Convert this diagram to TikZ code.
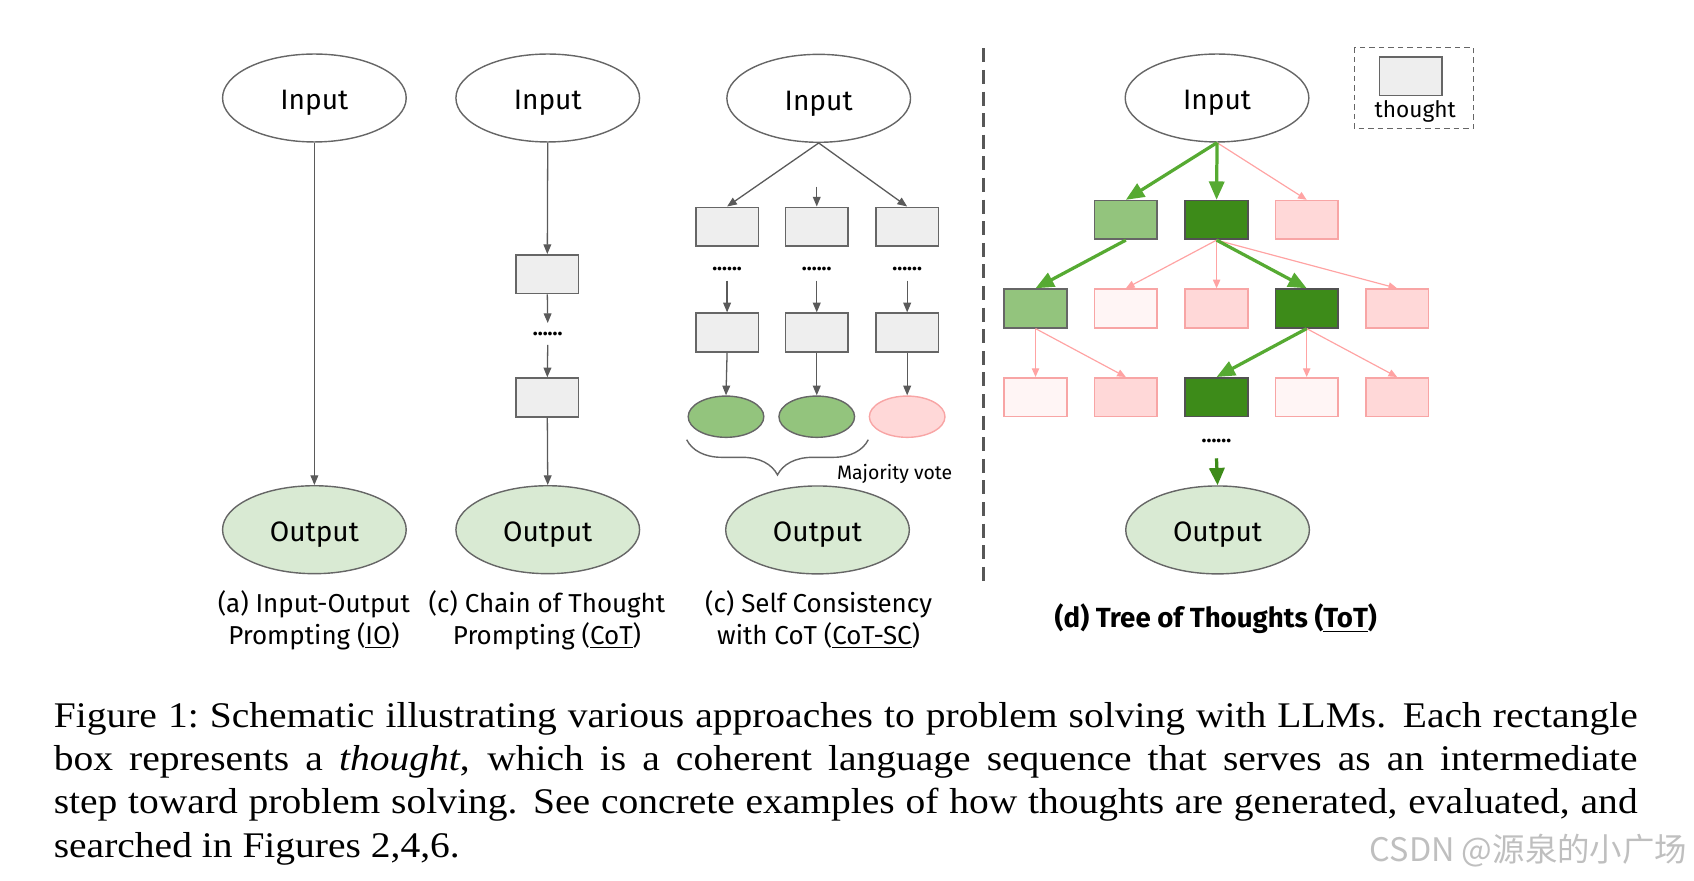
\documentclass[tikz,border=0pt]{standalone}
\usepackage{fontspec}
\setmainfont[FakeStretch=1.095]{Liberation Serif}
\newfontfamily\uifont{Fira Sans}
\newfontfamily\cjkfont{Noto Sans CJK SC}
\usetikzlibrary{arrows.meta,decorations.pathreplacing,shapes.geometric}

\definecolor{boxgray}{HTML}{EEEEEE}
\definecolor{edgegray}{HTML}{666666}
\definecolor{arrgray}{HTML}{5A5A5A}
\definecolor{lgreen}{HTML}{93C47D}
\definecolor{dgreen}{HTML}{3D8B19}
\definecolor{agreen}{HTML}{56AA32}
\definecolor{outgreen}{HTML}{D9EAD3}
\definecolor{pinkfill}{HTML}{FFD8D8}
\definecolor{palepink}{HTML}{FFF5F5}
\definecolor{pinkedge}{HTML}{F8A5A5}
\definecolor{pinkarrow}{HTML}{FFA3A3}

\tikzset{
  ell/.style={ellipse, draw=edgegray, line width=0.65pt, minimum width=85pt,
    minimum height=40.7pt, inner sep=0pt, text height=11.1pt, text depth=0pt,
    font=\uifont\fontsize{13}{15}\selectfont},
  inell/.style={ell, fill=white},
  outell/.style={ell, fill=outgreen},
  thbox/.style={rectangle, draw=edgegray, line width=0.75pt, minimum width=29pt,
    minimum height=17.9pt, inner sep=0pt},
  graybox/.style={thbox, fill=boxgray},
  lgbox/.style={thbox, fill=lgreen},
  dgbox/.style={thbox, fill=dgreen, draw=edgegray!80!black},
  pkbox/.style={thbox, fill=pinkfill, draw=pinkedge},
  ppbox/.style={thbox, fill=palepink, draw=pinkedge},
  vote/.style={ellipse, minimum width=35pt, minimum height=19.1pt, inner sep=0pt, line width=0.65pt},
  garr/.style={draw=arrgray, line width=0.6pt, -{Triangle[length=4.5pt,width=3.6pt]}},
  greenarr/.style={draw=agreen, line width=1.5pt, -{Triangle[length=8.5pt,width=7pt]}},
  darkarr/.style={draw=dgreen, line width=1.5pt, -{Triangle[length=8pt,width=7pt]}},
  pinkarr/.style={draw=pinkarrow, line width=0.55pt, -{Triangle[length=4pt,width=3.4pt]}},
  dotsnode/.style={font=\uifont\bfseries\fontsize{9.5}{10}\selectfont, inner sep=0pt},
  lab/.style={font=\uifont\fontsize{12}{14}\selectfont, anchor=base, inner sep=0pt},
}

\begin{document}
\begin{tikzpicture}[x=0.5pt,y=-0.5pt]
\useasboundingbox (0,0) rectangle (1568,814.6);

% ---------- (a) IO ----------
\node[inell]  (ina)  at (291,90.7)  {Input};
\node[outell] (outa) at (291,490.3) {Output};
\draw[garr] (ina.south) -- (outa.north);

% ---------- (b) CoT ----------
\node[inell]  (inb)  at (507,90.7)  {Input};
\node[graybox] (b1)  at (506.6,253.8) {};
\node[dotsnode] (dotsb) at (507,309.5) {......};
\node[graybox] (b2)  at (506.6,367.9) {};
\node[outell] (outb) at (507,490.3) {Output};
\coordinate (bda) at (507,299);
\coordinate (bdb) at (507,319.3);
\draw[garr] (inb.south) -- (b1.north);
\draw[garr] (b1.south) -- (bda);
\draw[garr] (bdb) -- (b2.north);
\draw[garr] (b2.south) -- (outb.north);

% ---------- (c) CoT-SC ----------
\node[inell] (inc) at (757.8,91) {Input};
\node[graybox] (c11) at (673,209.8) {};
\node[graybox] (c12) at (756,209.8) {};
\node[graybox] (c13) at (839.7,209.8) {};
\node[dotsnode] (dc1) at (673,249.3) {......};
\node[dotsnode] (dc2) at (756,249.3) {......};
\node[dotsnode] (dc3) at (839.7,249.3) {......};
\node[graybox] (c21) at (673,307.8) {};
\node[graybox] (c22) at (756,307.8) {};
\node[graybox] (c23) at (839.7,307.8) {};
\node[vote, fill=lgreen, draw=edgegray] (v1) at (672,385.7) {};
\node[vote, fill=lgreen, draw=edgegray] (v2) at (756,385.7) {};
\node[vote, fill=pinkfill, draw=pinkedge] (v3) at (839.7,385.7) {};
\node[outell] (outc) at (756.7,490.5) {Output};
\coordinate (cm) at (756,172.8);
\coordinate (cd1) at (673,259.8);
\coordinate (cd2) at (756,259.8);
\coordinate (cd3) at (839.7,259.8);
\draw[garr] (inc.south) -- (c11.north);
\draw[garr] (cm) -- (c12.north);
\draw[garr] (inc.south) -- (c13.north);
\draw[garr] (cd1) -- (c21.north);
\draw[garr] (cd2) -- (c22.north);
\draw[garr] (cd3) -- (c23.north);
\draw[garr] (c21.south) -- (v1.north);
\draw[garr] (c22.south) -- (v2.north);
\draw[garr] (c23.south) -- (v3.north);
\coordinate (brl) at (635.6,407);
\coordinate (brr) at (803.7,407);
\draw[draw=edgegray, line width=0.65pt, decorate,
      decoration={brace, mirror, amplitude=16.3pt}] (brl) -- (brr);
\node[font=\uifont\fontsize{9}{11}\selectfont, anchor=base west, inner sep=0pt]
  (mv) at (774.4,443.7) {Majority vote};

% ---------- separator ----------
\coordinate (sept) at (910.5,44.7);
\coordinate (sepb) at (910.5,540);
\draw[draw=edgegray!85!black, line width=1.5pt, dash pattern=on 6.5pt off 3.5pt] (sept) -- (sepb);

% ---------- (d) ToT ----------
\node[inell] (ind) at (1126.5,90.7) {Input};
\node[lgbox] (d11) at (1042.1,203.6) {};
\node[dgbox] (d12) at (1126.1,203.6) {};
\node[pkbox] (d13) at (1209.5,203.6) {};
\node[lgbox] (d21) at (958.5,285.5) {};
\node[ppbox] (d22) at (1042.1,285.5) {};
\node[pkbox] (d23) at (1126.1,285.5) {};
\node[dgbox] (d24) at (1209.5,285.5) {};
\node[pkbox] (d25) at (1293.2,285.5) {};
\node[ppbox] (d31) at (958.5,367.6) {};
\node[pkbox] (d32) at (1042.1,367.6) {};
\node[dgbox] (d33) at (1126.1,367.6) {};
\node[ppbox] (d34) at (1209.5,367.6) {};
\node[pkbox] (d35) at (1293.2,367.6) {};
\node[dotsnode] (dotsd) at (1126,408) {......};
\node[outell] (outd) at (1127,490.5) {Output};
\coordinate (dda) at (1126,424.2);

\draw[pinkarr] (ind.south) -- (d13.north);
\draw[greenarr] (ind.south) -- (d11.north);
\draw[greenarr] (ind.south) -- (d12.north);
\draw[greenarr] (d11.south) -- (d21.north);
\draw[pinkarr] (d12.south) -- (d22.north);
\draw[pinkarr] (d12.south) -- (d23.north);
\draw[pinkarr] (d12.south) -- (d25.north);
\draw[greenarr] (d12.south) -- (d24.north);
\draw[pinkarr] (d21.south) -- (d31.north);
\draw[pinkarr] (d21.south) -- (d32.north);
\draw[pinkarr] (d24.south) -- (d34.north);
\draw[pinkarr] (d24.south) -- (d35.north);
\draw[greenarr] (d24.south) -- (d33.north);
\draw[darkarr] (dda) -- (outd.north);

% legend
\coordinate (lgtl) at (1253.6,43.8);
\coordinate (lgbr) at (1363.7,119.1);
\draw[draw=edgegray, line width=0.65pt, dash pattern=on 2.6pt off 1.8pt] (lgtl) rectangle (lgbr);
\node[graybox] (legbox) at (1306,70.4) {};
\node[font=\uifont\fontsize{10.5}{12}\selectfont, anchor=base, inner sep=0pt] (legtxt) at (1310,108.6) {thought};

% ---------- sub-captions ----------
\node[lab] (la1) at (290.5,566.6) {(a) Input-Output};
\node[lab] (la2) at (290.5,596.5) {Prompting (\underline{IO})};
\node[lab] (lb1) at (506.3,566.6) {(c) Chain of Thought};
\node[lab] (lb2) at (506.3,596.5) {Prompting (\underline{CoT})};
\node[lab] (lc1) at (757.7,566.6) {(c) Self Consistency};
\node[lab] (lc2) at (757.7,596.5) {with CoT (\underline{CoT-SC})};
\node[lab, font=\uifont\bfseries\fontsize{12.8}{14}\selectfont] (ld) at (1125.4,581) {(d) Tree of Thoughts (\underline{ToT})};

% ---------- caption ----------
\node[anchor=north west, inner sep=0pt, text width=733pt, align=justify,
      font=\fontsize{16.7}{20}\selectfont] (cap) at (49.4,649.8)
{Figure 1:\ Schematic illustrating various approaches to problem solving with LLMs. Each rectangle\linebreak
box represents a \textit{thought}, which is a coherent language sequence that serves as an intermediate\linebreak
step toward problem solving. See concrete examples of how thoughts are generated, evaluated, and\linebreak
searched in Figures 2,4,6.};

% ---------- watermark ----------
\node[anchor=base east, inner sep=0pt, text=black!25, font=\cjkfont\fontsize{15}{16}\selectfont]
  (wm) at (1562,797) {CSDN @源泉的小广场};
\end{tikzpicture}
\end{document}
